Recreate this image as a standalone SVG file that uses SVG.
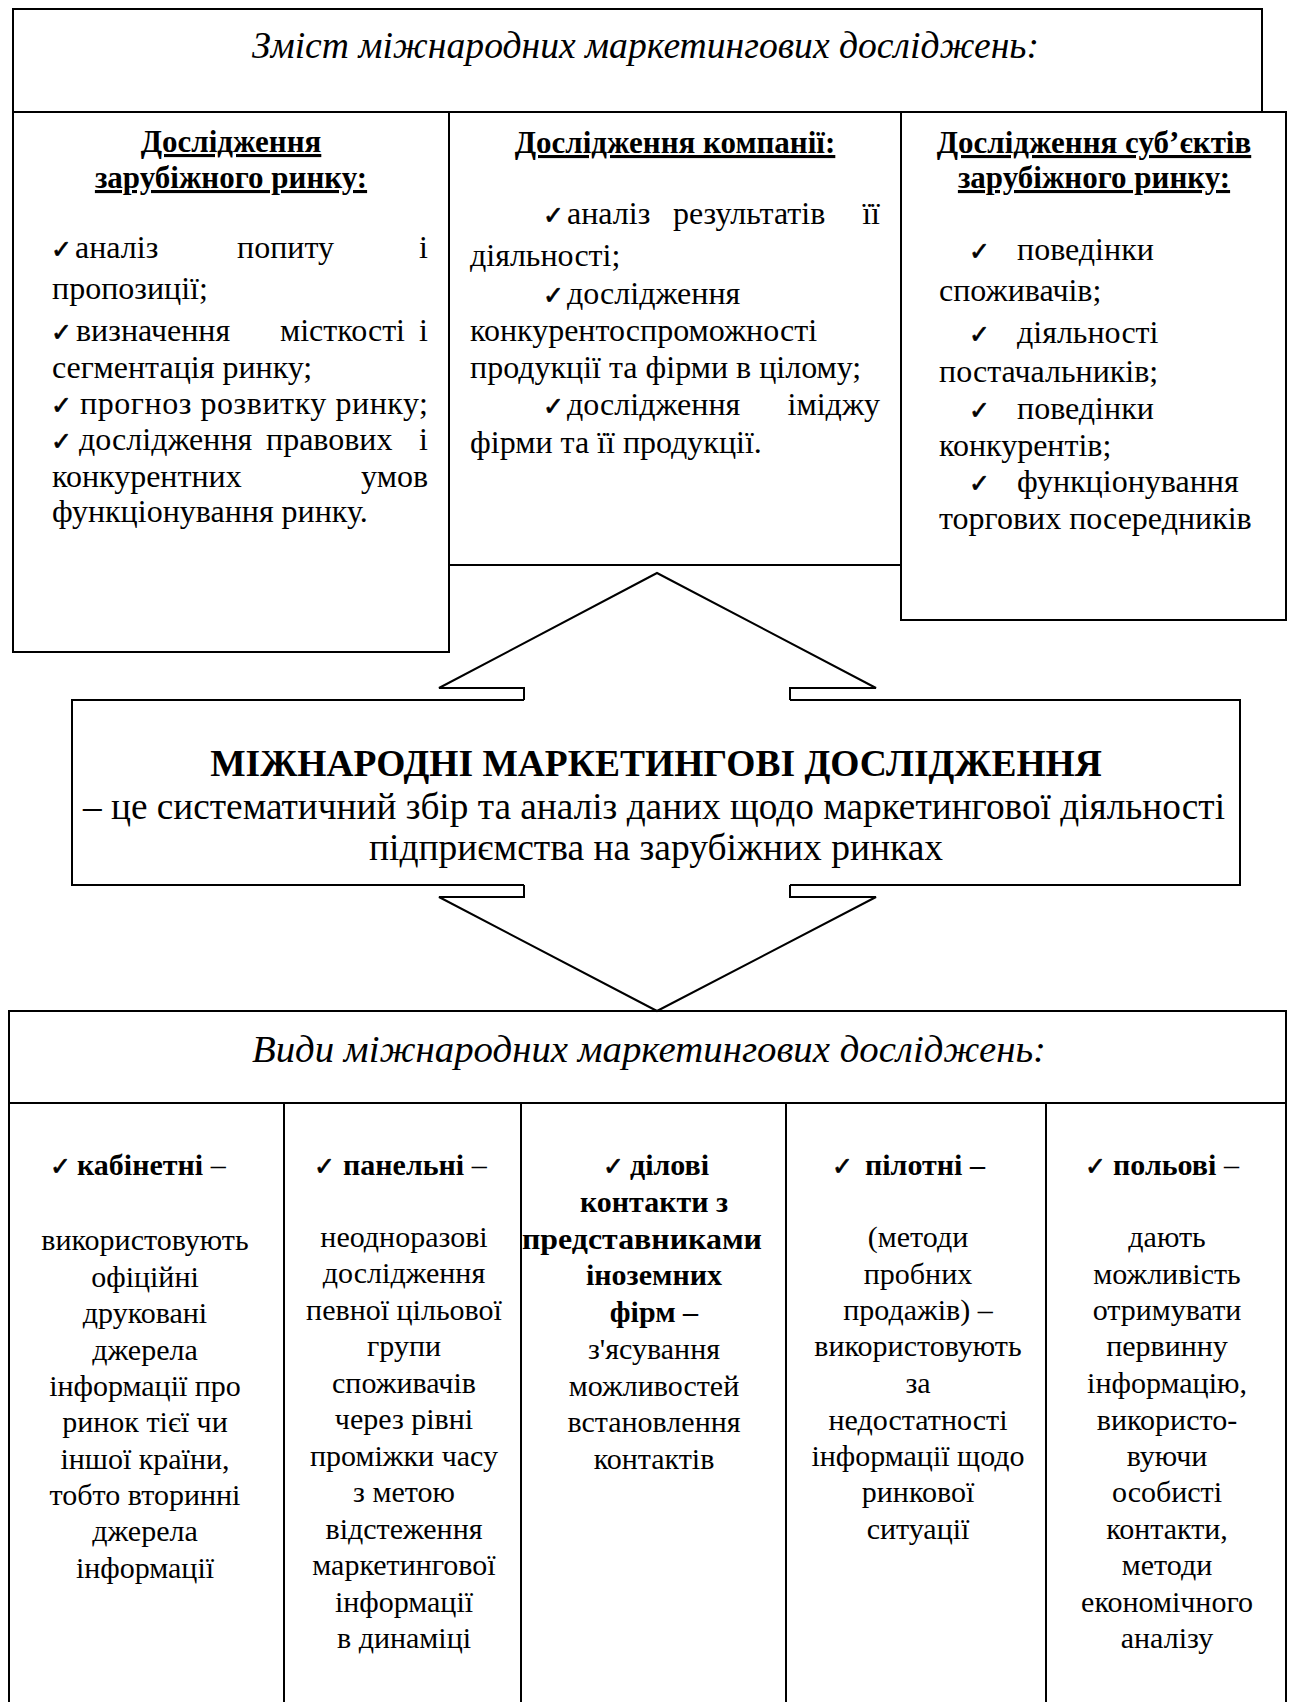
<svg xmlns="http://www.w3.org/2000/svg" width="1290" height="1702" viewBox="0 0 1290 1702">
<style>
.box{fill:#fff;stroke:#000;stroke-width:2}
.ln{fill:none;stroke:#000;stroke-width:2}
text{font-family:"Liberation Serif","Times New Roman",serif;font-size:30px;fill:#000}
.r{font-size:32px}
.b{font-weight:bold}
.h{font-size:31px;font-weight:bold;text-decoration:underline}
.m{text-anchor:middle}
.e{text-anchor:end}
.ck{font-family:"DejaVu Sans",sans-serif;font-size:25px;font-weight:normal;stroke:#000;stroke-width:0.7}
.ttl{font-size:38px;font-style:italic}
.big{font-size:37.5px}
</style>
<rect width="1290" height="1702" fill="#fff"/>

<g id="top-title">
<rect class="box" x="13" y="9" width="1249" height="103"/>
<text class="ttl" x="252" y="58" textLength="787" lengthAdjust="spacingAndGlyphs">Зміст міжнародних маркетингових досліджень:</text>
</g>

<g id="foreign-market">
<rect class="box" x="13" y="112" width="436" height="540"/>
<text class="h m" x="231" y="152">Дослідження</text>
<text class="h m" x="231" y="188">зарубіжного ринку:</text>
<text class="ck" x="51" y="258">✓</text><text class="r" x="75" y="258">аналіз</text><text class="r e" x="334" y="258">попиту</text><text class="r e" x="428" y="258">і</text>
<text class="r" x="52" y="299">пропозиції;</text>
<text class="ck" x="51" y="341">✓</text><text class="r" x="76" y="341">визначення</text><text class="r e" x="405" y="341">місткості</text><text class="r e" x="428" y="341">і</text>
<text class="r" x="52" y="378">сегментація ринку;</text>
<text class="ck" x="51" y="414">✓</text><text class="r" x="80" y="414" textLength="348" lengthAdjust="spacing">прогноз розвитку ринку;</text>
<text class="ck" x="51" y="450">✓</text><text class="r" x="79" y="450">дослідження</text><text class="r" x="266" y="450">правових</text><text class="r e" x="428" y="450">і</text>
<text class="r" x="52" y="487">конкурентних</text><text class="r e" x="428" y="487">умов</text>
<text class="r" x="52" y="522">функціонування ринку.</text>
</g>

<g id="company">
<rect class="box" x="449" y="112" width="452" height="453"/>
<text class="h m" x="675" y="153">Дослідження компанії:</text>
<text class="ck" x="543" y="224">✓</text><text class="r" x="567" y="224">аналіз</text><text class="r" x="673" y="224">результатів</text><text class="r e" x="880" y="224">її</text>
<text class="r" x="470" y="266">діяльності;</text>
<text class="ck" x="543" y="304">✓</text><text class="r" x="567" y="304">дослідження</text>
<text class="r" x="470" y="341">конкурентоспроможності</text>
<text class="r" x="470" y="378">продукції та фірми в цілому;</text>
<text class="ck" x="543" y="415">✓</text><text class="r" x="567" y="415">дослідження</text><text class="r e" x="880" y="415">іміджу</text>
<text class="r" x="470" y="453">фірми та її продукції.</text>
</g>

<g id="market-subjects">
<rect class="box" x="901" y="112" width="385" height="508"/>
<text class="h m" x="1094" y="153">Дослідження суб’єктів</text>
<text class="h m" x="1094" y="188">зарубіжного ринку:</text>
<text class="ck" x="969" y="260">✓</text><text class="r" x="1017" y="260">поведінки</text>
<text class="r" x="939" y="301">споживачів;</text>
<text class="ck" x="969" y="343">✓</text><text class="r" x="1017" y="343">діяльності</text>
<text class="r" x="939" y="382">постачальників;</text>
<text class="ck" x="969" y="419">✓</text><text class="r" x="1017" y="419">поведінки</text>
<text class="r" x="939" y="456">конкурентів;</text>
<text class="ck" x="969" y="492">✓</text><text class="r" x="1017" y="492">функціонування</text>
<text class="r" x="939" y="529">торгових посередників</text>
</g>

<g id="center">
<rect class="box" x="72" y="700" width="1168" height="185"/>
<text class="b big m" x="656" y="776">МІЖНАРОДНІ МАРКЕТИНГОВІ ДОСЛІДЖЕННЯ</text>
<text class="big m" x="654" y="819" textLength="1142" lengthAdjust="spacingAndGlyphs">– це систематичний збір та аналіз даних щодо маркетингової діяльності</text>
<text class="big m" x="656" y="860">підприємства на зарубіжних ринках</text>
</g>

<g id="kinds">
<rect class="box" x="9" y="1011" width="1277" height="720"/>
<line class="ln" x1="9" y1="1103" x2="1286" y2="1103"/>
<line class="ln" x1="284" y1="1103" x2="284" y2="1702"/>
<line class="ln" x1="521" y1="1103" x2="521" y2="1702"/>
<line class="ln" x1="786" y1="1103" x2="786" y2="1702"/>
<line class="ln" x1="1046" y1="1103" x2="1046" y2="1702"/>
<text class="ttl" x="252" y="1062" textLength="794" lengthAdjust="spacingAndGlyphs">Види міжнародних маркетингових досліджень:</text>
</g>

<g id="desk">
<text class="ck" x="50" y="1175">✓</text><text x="77" y="1175"><tspan class="b">кабінетні</tspan> –</text>
<text class="m" x="145" y="1250">використовують</text>
<text class="m" x="145" y="1287">офіційні</text>
<text class="m" x="145" y="1323">друковані</text>
<text class="m" x="145" y="1360">джерела</text>
<text class="m" x="145" y="1396">інформації про</text>
<text class="m" x="145" y="1432">ринок тієї чи</text>
<text class="m" x="145" y="1469">іншої країни,</text>
<text class="m" x="145" y="1505">тобто вторинні</text>
<text class="m" x="145" y="1541">джерела</text>
<text class="m" x="145" y="1578">інформації</text>
</g>

<g id="panel">
<text class="ck" x="314" y="1175">✓</text><text x="343" y="1175"><tspan class="b">панельні</tspan> –</text>
<text class="m" x="404" y="1247">неодноразові</text>
<text class="m" x="404" y="1283">дослідження</text>
<text class="m" x="404" y="1320">певної цільової</text>
<text class="m" x="404" y="1356">групи</text>
<text class="m" x="404" y="1393">споживачів</text>
<text class="m" x="404" y="1429">через рівні</text>
<text class="m" x="404" y="1466">проміжки часу</text>
<text class="m" x="404" y="1502">з метою</text>
<text class="m" x="404" y="1539">відстеження</text>
<text class="m" x="404" y="1575">маркетингової</text>
<text class="m" x="404" y="1612">інформації</text>
<text class="m" x="404" y="1648">в динаміці</text>
</g>

<g id="business">
<text class="ck" x="603" y="1175">✓</text><text class="b" x="630" y="1175">ділові</text>
<text class="m b" x="654" y="1212">контакти з</text>
<text class="b" x="522" y="1249" textLength="240" lengthAdjust="spacingAndGlyphs">представниками</text>
<text class="m b" x="654" y="1285">іноземних</text>
<text class="m b" x="654" y="1322">фірм –</text>
<text class="m" x="654" y="1359">з'ясування</text>
<text class="m" x="654" y="1396">можливостей</text>
<text class="m" x="654" y="1432">встановлення</text>
<text class="m" x="654" y="1469">контактів</text>
</g>

<g id="pilot">
<text class="ck" x="832" y="1175">✓</text><text class="b" x="865" y="1175">пілотні –</text>
<text class="m" x="918" y="1247">(методи</text>
<text class="m" x="918" y="1284">пробних</text>
<text class="m" x="918" y="1320">продажів) –</text>
<text class="m" x="918" y="1356">використовують</text>
<text class="m" x="918" y="1393">за</text>
<text class="m" x="918" y="1430">недостатності</text>
<text class="m" x="918" y="1466">інформації щодо</text>
<text class="m" x="918" y="1502">ринкової</text>
<text class="m" x="918" y="1539">ситуації</text>
</g>

<g id="field">
<text class="ck" x="1085" y="1175">✓</text><text x="1113" y="1175"><tspan class="b">польові</tspan> –</text>
<text class="m" x="1167" y="1247">дають</text>
<text class="m" x="1167" y="1284">можливість</text>
<text class="m" x="1167" y="1320">отримувати</text>
<text class="m" x="1167" y="1356">первинну</text>
<text class="m" x="1167" y="1393">інформацію,</text>
<text class="m" x="1167" y="1430">використо-</text>
<text class="m" x="1167" y="1466">вуючи</text>
<text class="m" x="1167" y="1502">особисті</text>
<text class="m" x="1167" y="1539">контакти,</text>
<text class="m" x="1167" y="1575">методи</text>
<text class="m" x="1167" y="1612">економічного</text>
<text class="m" x="1167" y="1648">аналізу</text>
</g>

<g id="connectors">
<polygon points="524,702 524,688 439,688 657,573 876,688 790,688 790,702" fill="#fff" stroke="none"/>
<polyline class="ln" points="524,700 524,688 439,688 657,573 876,688 790,688 790,700"/>
<polygon points="524,883 524,897 439,897 657,1011 876,897 790,897 790,883" fill="#fff" stroke="none"/>
<polyline class="ln" points="524,885 524,897 439,897 657,1011 876,897 790,897 790,885"/>
</g>
</svg>
